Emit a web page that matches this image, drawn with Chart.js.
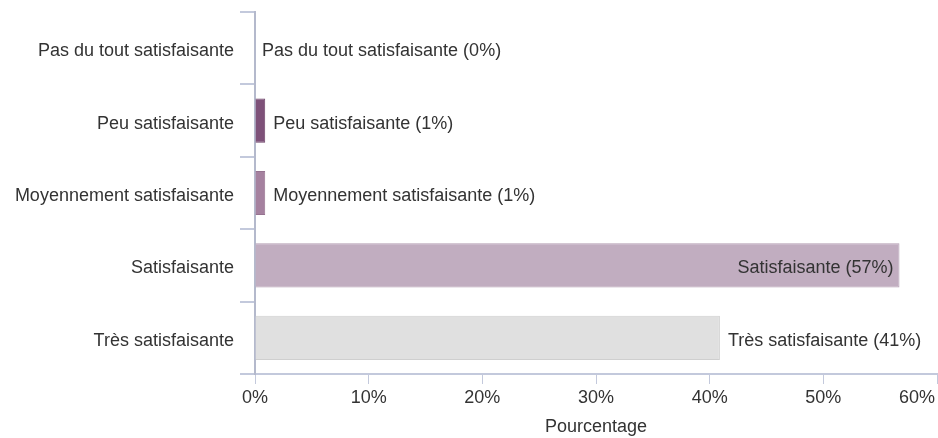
<!DOCTYPE html>
<html><head><meta charset="utf-8">
<script src="https://cdn.jsdelivr.net/npm/chart.js@4/dist/chart.umd.min.js"></script>
<style>html,body{margin:0;padding:0;background:#fff}#wrap{width:938px;height:438px}</style>
</head><body><div id="wrap"><canvas id="c" width="938" height="438"></canvas></div>
<script>
const categories = ["Pas du tout satisfaisante","Peu satisfaisante","Moyennement satisfaisante","Satisfaisante","Très satisfaisante"];
const values = [0, 0.9, 0.9, 56.7, 40.9];
const shownPercent = [0, 1, 1, 57, 41];
const barColors = ["#5a3658","#7e5179","#a5819f","#c1adc0","#e0e0e0"];
const borderColors = ["#4a2a48","#6e4369","#967290","#b39db2","#cfcfcf"];
const xTicks = [0,10,20,30,40,50,60];

const FONT = "'Liberation Sans', Arial, sans-serif";
const FS = 18;
const AXIS = "#c3c9dc";

const labelPlugin = {
  id: 'barLabels',
  afterDatasetsDraw(chart) {
    const ctx = chart.ctx;
    const meta = chart.getDatasetMeta(0);
    const area = chart.chartArea;
    ctx.save();
    ctx.font = FS + "px " + FONT;
    ctx.fillStyle = "#333";
    ctx.textBaseline = "middle";
    meta.data.forEach((bar, i) => {
      const txt = categories[i] + " (" + shownPercent[i] + "%)";
      const w = ctx.measureText(txt).width;
      if (bar.x + 8 + w < area.right) {
        ctx.textAlign = "left";
        ctx.fillText(txt, bar.x + (values[i] > 0 ? 8 : 7), bar.y + 3);
      } else {
        ctx.textAlign = "right";
        ctx.fillText(txt, bar.x - 6, bar.y + 3);
      }
    });
    ctx.restore();
  }
};

new Chart(document.getElementById('c'), {
  type: 'bar',
  data: {
    labels: categories,
    datasets: [{
      data: values,
      backgroundColor: barColors,
      borderColor: borderColors,
      borderWidth: 1,
      borderSkipped: 'start',
      categoryPercentage: 1,
      barPercentage: 0.61
    }]
  },
  plugins: [labelPlugin],
  options: {
    indexAxis: 'y',
    responsive: false,
    animation: false,
    layout: { padding: { top: 12, right: 1, left: 0, bottom: 0 } },
    plugins: { legend: { display: false }, tooltip: { enabled: false } },
    scales: {
      x: {
        min: 0, max: 60,
        afterBuildTicks(scale) { scale.ticks = xTicks.map(v => ({ value: v })); },
        afterFit(scale) { scale.height = 64; scale.paddingRight = 0; scale.paddingLeft = 0; },
        border: { display: true, color: AXIS, width: 2 },
        grid: { display: true, drawOnChartArea: false, drawTicks: true, tickLength: 10, color: AXIS, lineWidth: 1 },
        ticks: {
          color: "#333",
          font: { family: FONT, size: FS },
          padding: 3,
          maxRotation: 0,
          callback: (v) => v === 60 ? v + "%        " : v + "%"
        },
        title: { display: true, text: "Pourcentage", color: "#333", font: { family: FONT, size: FS }, padding: { top: 2, bottom: 0 } }
      },
      y: {
        afterFit(scale) { scale.width = 255; scale.paddingTop = 0; scale.paddingBottom = 0; },
        border: { display: true, color: "#b4b9cc", width: 2 },
        grid: { display: true, offset: true, drawOnChartArea: false, drawTicks: true, tickLength: 15, color: AXIS, lineWidth: 2 },
        ticks: { color: "#333", font: { family: FONT, size: FS }, padding: 6, labelOffset: 3 }
      }
    }
  }
});
</script>
</body></html>
